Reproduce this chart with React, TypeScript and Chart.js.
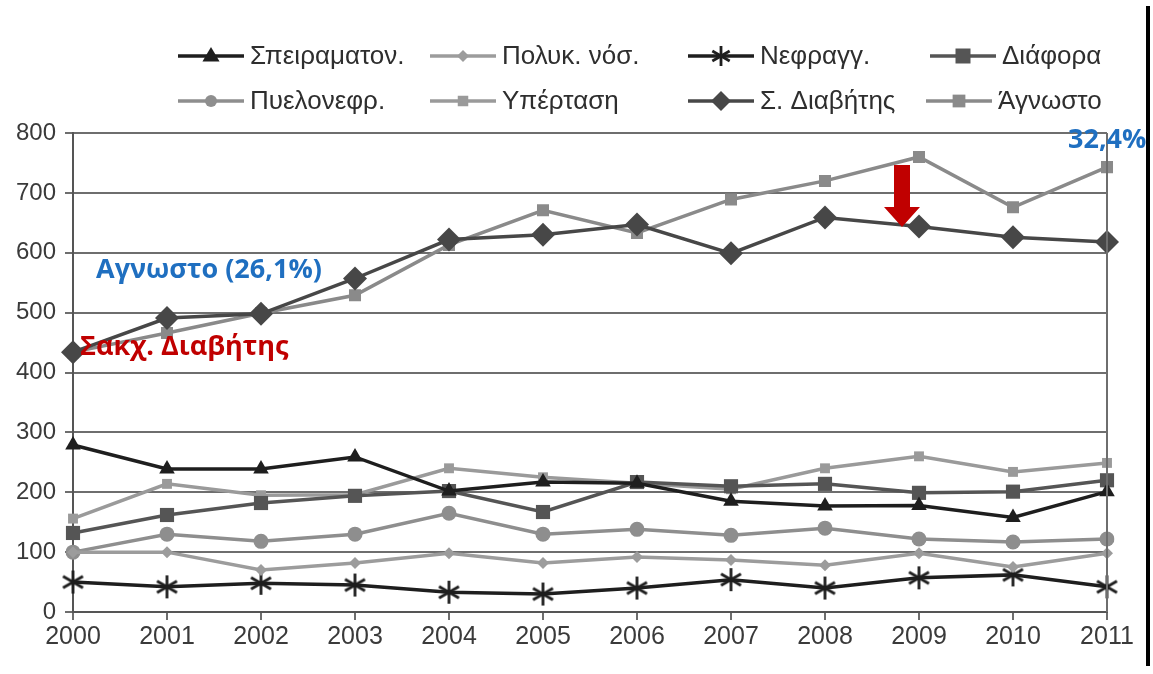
import React, { useEffect, useRef } from "react";
import { Chart, registerables } from "chart.js";

Chart.register(...registerables);

const years = ["2000", "2001", "2002", "2003", "2004", "2005", "2006", "2007", "2008", "2009", "2010", "2011"];

const speiramaton = [279, 239, 239, 259, 202, 217, 215, 185, 177, 178, 158, 201];
const polykNos = [100, 100, 70, 82, 98, 82, 92, 87, 78, 98, 75, 98];
const nefrangg = [50, 42, 48, 45, 33, 30, 40, 54, 40, 57, 62, 42];
const diafora = [132, 162, 182, 194, 202, 167, 217, 210, 214, 199, 201, 220];
const pyelonefr = [100, 130, 118, 130, 165, 130, 138, 128, 140, 122, 117, 122];
const ypertasi = [156, 214, 195, 196, 240, 225, 215, 205, 240, 260, 234, 249];
const diavitis = [434, 491, 498, 557, 622, 630, 647, 599, 659, 644, 626, 618];
const agnosto = [434, 466, 499, 529, 613, 671, 633, 689, 720, 760, 676, 743];

const yTicks = [0, 100, 200, 300, 400, 500, 600, 700, 800];

const legendNames = [
  "Σπειραματον.", "Πολυκ. νόσ.", "Νεφραγγ.", "Διάφορα",
  "Πυελονεφρ.", "Υπέρταση", "Σ. Διαβήτης", "Άγνωστο",
];

function makeAsterisk(size: number, color: string, lw: number): HTMLCanvasElement {
  const c = document.createElement("canvas");
  c.width = size;
  c.height = size;
  const ctx = c.getContext("2d")!;
  ctx.strokeStyle = color;
  ctx.lineWidth = lw;
  ctx.lineCap = "butt";
  const r = size / 2 - 1;
  const cx = size / 2;
  const cy = size / 2;
  [90, 30, 150].forEach((deg) => {
    const a = (deg * Math.PI) / 180;
    ctx.beginPath();
    ctx.moveTo(cx - r * Math.cos(a), cy - r * Math.sin(a));
    ctx.lineTo(cx + r * Math.cos(a), cy + r * Math.sin(a));
    ctx.stroke();
  });
  return c;
}

type Style = { color: string; marker: string; r: number; lw: number };

const styles: Style[] = [
  { color: "#1e1e1e", marker: "triangle", r: 9, lw: 3.5 },
  { color: "#9c9c9c", marker: "rectRot", r: 6, lw: 3.5 },
  { color: "#1e1e1e", marker: "star", r: 11, lw: 3.5 },
  { color: "#555555", marker: "rect", r: 10, lw: 3.5 },
  { color: "#8e8e8e", marker: "circle", r: 7.5, lw: 3.5 },
  { color: "#9a9a9a", marker: "rect", r: 7, lw: 3.5 },
  { color: "#474747", marker: "rectRot", r: 12, lw: 3.5 },
  { color: "#8a8a8a", marker: "rect", r: 8.5, lw: 3.5 },
];

function drawMarker(ctx: CanvasRenderingContext2D, s: Style, x: number, y: number, star: HTMLCanvasElement) {
  ctx.save();
  ctx.fillStyle = s.color;
  ctx.strokeStyle = s.color;
  const r = s.r;
  ctx.beginPath();
  if (s.marker === "triangle") {
    ctx.moveTo(x, y - r);
    ctx.lineTo(x + r * 0.95, y + r * 0.6);
    ctx.lineTo(x - r * 0.95, y + r * 0.6);
    ctx.closePath();
    ctx.fill();
  } else if (s.marker === "rectRot") {
    ctx.moveTo(x, y - r);
    ctx.lineTo(x + r, y);
    ctx.lineTo(x, y + r);
    ctx.lineTo(x - r, y);
    ctx.closePath();
    ctx.fill();
  } else if (s.marker === "rect") {
    const h = r * 0.75;
    ctx.rect(x - h, y - h, 2 * h, 2 * h);
    ctx.fill();
  } else if (s.marker === "circle") {
    ctx.arc(x, y, r * 0.8, 0, Math.PI * 2);
    ctx.fill();
  } else if (s.marker === "star") {
    ctx.drawImage(star, x - star.width / 2, y - star.height / 2);
  }
  ctx.restore();
}

export default function App() {
  const ref = useRef<HTMLCanvasElement>(null);

  useEffect(() => {
    if (!ref.current) return;
    const star = makeAsterisk(25, "#1e1e1e", 2.8);
    const starLegend = makeAsterisk(22, "#1e1e1e", 2.8);
    const series = [speiramaton, polykNos, nefrangg, diafora, pyelonefr, ypertasi, diavitis, agnosto];

    const datasets = series.map((data, i) => {
      const s = styles[i];
      return {
        label: legendNames[i],
        data,
        borderColor: s.color,
        backgroundColor: s.color,
        borderWidth: s.lw,
        pointStyle: s.marker === "star" ? star : s.marker,
        pointRadius: s.r,
        pointBorderWidth: 0,
        pointBackgroundColor: s.color,
        tension: 0,
      } as any;
    });

    const extras = {
      id: "extras",
      afterDraw(chart: any) {
        const ctx: CanvasRenderingContext2D = chart.ctx;
        const a = chart.chartArea;
        ctx.save();
        ctx.strokeStyle = "#6e6e6e";
        ctx.lineWidth = 2;
        ctx.beginPath();
        ctx.moveTo(a.right, a.top);
        ctx.lineTo(a.right, a.bottom);
        ctx.stroke();
        ctx.fillStyle = "#000";
        ctx.fillRect(1146, 6, 4, 660);

        const colStarts = [[178, 430, 688, 930], [178, 430, 688, 926]];
        const rowsY = [56, 101];
        ctx.font = "26px 'Liberation Sans', Arial, sans-serif";
        ctx.textBaseline = "middle";
        ctx.textAlign = "left";
        for (let i = 0; i < 8; i++) {
          const row = Math.floor(i / 4);
          const col = i % 4;
          const x0 = colStarts[row][col];
          const y = rowsY[row];
          const s = styles[i];
          ctx.strokeStyle = s.color;
          ctx.lineWidth = 3.5;
          ctx.beginPath();
          ctx.moveTo(x0, y);
          ctx.lineTo(x0 + 66, y);
          ctx.stroke();
          drawMarker(ctx, { ...s, r: Math.min(s.r, 10) }, x0 + 33, y, starLegend);
          ctx.fillStyle = "#2e2e2e";
          ctx.fillText(legendNames[i], x0 + 72, y + 1);
        }

        ctx.font = "bold 27px 'Open Sans', sans-serif";
        ctx.fillStyle = "#1f6fc0";
        ctx.fillText("Αγνωστο (26,1%)", 96, 270);
        ctx.fillText("32,4%", 1068, 140);
        ctx.fillStyle = "#c00000";
        ctx.fillText("Σακχ. Διαβήτης", 80, 347);

        ctx.fillStyle = "#c00000";
        ctx.beginPath();
        ctx.moveTo(894, 165);
        ctx.lineTo(910, 165);
        ctx.lineTo(910, 207);
        ctx.lineTo(920, 207);
        ctx.lineTo(902, 227);
        ctx.lineTo(884, 207);
        ctx.lineTo(894, 207);
        ctx.closePath();
        ctx.fill();
        ctx.restore();
      },
    };

    const chart = new Chart(ref.current, {
      type: "line",
      data: { labels: years, datasets },
      options: {
        responsive: false,
        animation: false,
        devicePixelRatio: 1,
        layout: { padding: { top: 133, right: 46, left: 0, bottom: 0 } },
        plugins: { legend: { display: false }, tooltip: { enabled: false } },
        scales: {
          x: {
            type: "category",
            offset: false,
            grid: { drawOnChartArea: false, drawTicks: true, tickLength: 8, color: "#6e6e6e", lineWidth: 2 },
            border: { display: true, color: "#555", width: 2 },
            ticks: { font: { size: 25, family: "'Liberation Sans', Arial, sans-serif" }, color: "#3a3a3a", padding: 2, maxRotation: 0 },
            afterFit(scale: any) {
              scale.height = 62;
            },
          },
          y: {
            min: 0,
            max: 800,
            afterBuildTicks(scale: any) {
              scale.ticks = yTicks.map((v) => ({ value: v }));
            },
            grid: { color: "#6e6e6e", lineWidth: 2, tickLength: 8 },
            border: { display: true, color: "#555", width: 2 },
            ticks: { font: { size: 24, family: "'Liberation Sans', Arial, sans-serif" }, color: "#3a3a3a", padding: 9 },
            afterFit(scale: any) {
              scale.width = 73;
            },
          },
        },
      },
      plugins: [extras],
    } as any);
    return () => chart.destroy();
  }, []);

  return (
    <div style={{ position: "fixed", left: 0, top: 0, width: 1153, height: 674, background: "#fff" }}>
      <canvas ref={ref} width={1153} height={674} />
    </div>
  );
}
